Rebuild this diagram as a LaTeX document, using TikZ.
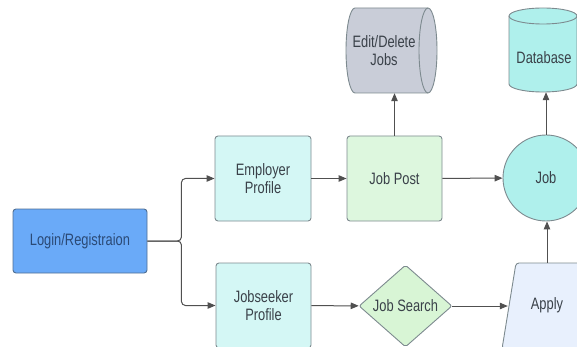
\documentclass[tikz,border=0pt]{standalone}
\usepackage{fontspec}
\setmainfont{Liberation Sans}[FakeStretch=0.78]
\usetikzlibrary{arrows.meta,shapes.geometric}
\definecolor{loginblue}{HTML}{6AAAF8}
\definecolor{loginborder}{HTML}{4F6E92}
\definecolor{logintxt}{HTML}{2B4A76}
\definecolor{profcyan}{HTML}{D4F7F5}
\definecolor{postgreen}{HTML}{DDF7DE}
\definecolor{editgray}{HTML}{C9CDD8}
\definecolor{dbcyan}{HTML}{AFF0EC}
\definecolor{searchgreen}{HTML}{D8F5D5}
\definecolor{applyblue}{HTML}{E8F0FD}
\definecolor{bordergray}{HTML}{7D8A8F}
\definecolor{txt}{HTML}{3A4149}
\definecolor{arrowgray}{HTML}{505050}
\begin{document}
\begin{tikzpicture}[x=1pt,y=-1pt,
  font=\fontsize{16.5}{18}\selectfont,
  box/.style={draw=bordergray, line width=0.9pt, rounded corners=3pt, align=center, text=txt, inner sep=0pt},
  shapeline/.style={draw=bordergray, line width=0.9pt},
  plain/.style={align=center, text=txt, inner sep=0pt},
  arr/.style={draw=arrowgray, line width=1pt, -{Triangle[length=8pt,width=6.5pt]}}]
\useasboundingbox (0,0) rectangle (577,347);
\clip (0,0) rectangle (577,347);
% shapes drawn directly
\path[shapeline, fill=editgray] (355,8) -- (428,8) arc[start angle=90, end angle=-90, x radius=9pt, y radius=42.5pt] -- (355,93) arc[start angle=270, end angle=90, x radius=9pt, y radius=42.5pt] -- cycle;
\draw[shapeline] (428,8) arc[start angle=90, end angle=270, x radius=9pt, y radius=42.5pt];
\path[shapeline, fill=dbcyan] (509,16) -- (509,84) arc[start angle=180, end angle=360, x radius=34pt, y radius=8pt] -- (577,16) arc[start angle=0, end angle=180, x radius=34pt, y radius=8pt] -- cycle;
\draw[shapeline] (509,16) arc[start angle=180, end angle=360, x radius=34pt, y radius=8pt];
\path[shapeline, fill=applyblue, rounded corners=3pt] (516,263) -- (620,263) -- (606,349) -- (502,349) -- cycle;
% nodes
\node[box, fill=loginblue, draw=loginborder, text=logintxt, minimum width=134pt, minimum height=64pt] (login) at (80,241) {Login/Registraion};
\node[box, fill=profcyan, minimum width=96pt, minimum height=85pt] (emp) at (263,178.5) {Employer\\Profile};
\node[box, fill=postgreen, minimum width=95pt, minimum height=85pt] (post) at (394.5,178.5) {Job Post};
\node[circle, draw=bordergray, line width=0.9pt, fill=dbcyan, text=txt, minimum size=86pt, inner sep=0pt] (job) at (546,178) {Job};
\node[box, fill=profcyan, minimum width=95pt, minimum height=85pt] (seek) at (263.5,305.5) {Jobseeker\\Profile};
\node[diamond, aspect=1.13, draw=bordergray, line width=0.9pt, fill=searchgreen, text=txt, minimum width=93pt, minimum height=82pt, inner sep=0pt, rounded corners=2pt] (search) at (405.5,306) {Job Search};
\node[plain, minimum width=78pt, minimum height=85pt] (edit) at (384,50.5) {Edit/Delete\\Jobs};
\node[plain, minimum width=66pt, minimum height=68pt] (db) at (544,58) {Database};
\node[plain, minimum width=78pt, minimum height=85pt] (apply) at (547,305.5) {Apply};
% connectors
\draw[arr, rounded corners=4pt] (login.east) -- ++(34,0) |- (emp.west);
\draw[arr, rounded corners=4pt] (login.east) -- ++(34,0) |- (seek.west);
\draw[arr] (emp) -- (post);
\draw[arr] (post) -- (job);
\draw[arr] (post.north) -- (post.north |- edit.south);
\draw[arr] (job.north) -- (job.north |- db.south);
\draw[arr] (seek) -- (search);
\draw[arr] (search.east) -- (search.east -| apply.west);
\draw[arr] (apply.north) -- (apply.north |- job.south);
\end{tikzpicture}
\end{document}
